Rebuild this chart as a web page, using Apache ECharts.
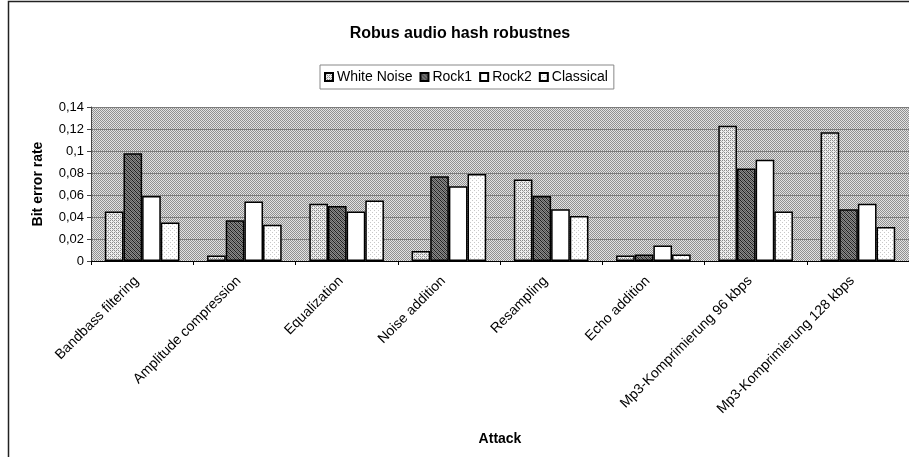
<!DOCTYPE html>
<html>
<head>
<meta charset="utf-8">
<script src="https://cdn.jsdelivr.net/npm/echarts@6/dist/echarts.min.js"></script>
<style>
html,body{margin:0;padding:0;background:#fff;}
#chart{width:909px;height:457px;}
</style>
</head>
<body>
<div id="chart"></div>
<script>
var categories = ['Bandbass filtering','Amplitude compression','Equalization','Noise addition','Resampling','Echo addition','Mp3-Komprimierung 96 kbps','Mp3-Komprimierung 128 kbps'];
var whiteNoise = [0.045, 0.005, 0.052, 0.009, 0.074, 0.005, 0.123, 0.117];
var rock1      = [0.098, 0.037, 0.050, 0.077, 0.059, 0.006, 0.084, 0.047];
var rock2      = [0.059, 0.054, 0.045, 0.068, 0.047, 0.014, 0.092, 0.052];
var classical  = [0.035, 0.033, 0.055, 0.079, 0.041, 0.006, 0.045, 0.031];
var yTicks = [0, 0.02, 0.04, 0.06, 0.08, 0.1, 0.12, 0.14];

function makePattern(size, fn) {
  var c = document.createElement('canvas');
  c.width = size; c.height = size;
  var ctx = c.getContext('2d');
  fn(ctx, size);
  return {image: c, repeat: 'repeat'};
}
function px(ctx, x, y, col) { ctx.fillStyle = col; ctx.fillRect(x, y, 1, 1); }

var bgPattern = makePattern(2, function(ctx){
  ctx.fillStyle = '#e2e2e2'; ctx.fillRect(0,0,2,2);
  px(ctx,0,0,'#909090'); px(ctx,1,1,'#909090');
});
var wnPattern = makePattern(4, function(ctx){
  ctx.fillStyle = '#eeeeee'; ctx.fillRect(0,0,4,4);
  px(ctx,0,0,'#8a8a8a'); px(ctx,2,0,'#8a8a8a'); px(ctx,1,1,'#b0b0b0');
  px(ctx,0,2,'#8a8a8a'); px(ctx,2,2,'#8a8a8a'); px(ctx,3,3,'#b0b0b0');
});
var r1Pattern = makePattern(4, function(ctx){
  ctx.fillStyle = '#8a8a8a'; ctx.fillRect(0,0,4,4);
  for (var i=0;i<4;i++){ px(ctx,i,i,'#1e1e1e'); px(ctx,(i+2)%4,i,'#555555'); }
});
var clPattern = makePattern(4, function(ctx){
  ctx.fillStyle = '#ffffff'; ctx.fillRect(0,0,4,4);
  px(ctx,0,0,'#c8c8c8'); px(ctx,2,2,'#c8c8c8');
});

var FONT = 'Liberation Sans, Arial, sans-serif';
function mkSeries(name, data, color) {
  return {
    name: name, type: 'bar', data: data,
    barGap: '0%', barCategoryGap: '27%',
    itemStyle: {color: color, borderColor: '#000', borderWidth: 1.5}
  };
}

var chart = echarts.init(document.getElementById('chart'), null, {renderer:'canvas'});
chart.setOption({
  animation: false,
  backgroundColor: '#fff',
  title: {
    text: 'Robus audio hash robustnes',
    left: 455, top: 21, textAlign: 'center',
    textStyle: {fontFamily: FONT, fontSize: 16, fontWeight: 'bold', color: '#000'}
  },
  legend: {
    left: 320, top: 65,
    icon: 'rect',
    itemWidth: 8, itemHeight: 8, itemGap: 7,
    padding: [5, 6, 5, 4],
    borderColor: '#888', borderWidth: 1,
    textStyle: {fontFamily: FONT, fontSize: 14, color: '#000', padding: [0,0,0,-1]},
    data: ['White Noise','Rock1','Rock2','Classical']
  },
  graphic: [{
    type: 'rect', silent: true, z: -10,
    shape: {x: 8.5, y: 1.5, width: 1000, height: 1000},
    style: {fill: 'none', stroke: '#222', lineWidth: 1.5}
  }],
  grid: {
    left: 91, top: 107, width: 821, height: 154,
    show: true, backgroundColor: bgPattern, borderWidth: 0
  },
  xAxis: {
    type: 'category', data: categories,
    name: 'Attack', nameLocation: 'middle', nameGap: 171,
    nameTextStyle: {fontFamily: FONT, fontSize: 14, fontWeight: 'bold', color: '#000'},
    axisLine: {lineStyle: {color: '#000', width: 1}},
    axisTick: {show: true, length: 4, lineStyle: {color: '#000'}},
    axisLabel: {rotate: 45, interval: 0, margin: 12, padding: [0, 8, 0, 0], fontFamily: FONT, fontSize: 14, color: '#000'}
  },
  yAxis: {
    type: 'value', min: 0, max: 0.14, interval: 0.02,
    name: 'Bit error rate', nameLocation: 'middle', nameGap: 46, nameRotate: 90,
    nameTextStyle: {fontFamily: FONT, fontSize: 14, fontWeight: 'bold', color: '#000'},
    axisLine: {show: true, lineStyle: {color: '#444', width: 1}},
    axisTick: {show: true, length: 4, inside: false, lineStyle: {color: '#444'}},
    splitLine: {show: true, lineStyle: {color: '#7c7c7c', width: 1}},
    axisLabel: {
      margin: 7, fontFamily: FONT, fontSize: 13, color: '#000',
      formatter: function(v){
        var t = yTicks.reduce(function(a,b){ return Math.abs(b-v) < Math.abs(a-v) ? b : a; });
        return t === 0 ? '0' : String(t).replace('.', ',');
      }
    }
  },
  series: [
    mkSeries('White Noise', whiteNoise, wnPattern),
    mkSeries('Rock1', rock1, r1Pattern),
    mkSeries('Rock2', rock2, '#ffffff'),
    mkSeries('Classical', classical, clPattern)
  ]
});
</script>
</body>
</html>
